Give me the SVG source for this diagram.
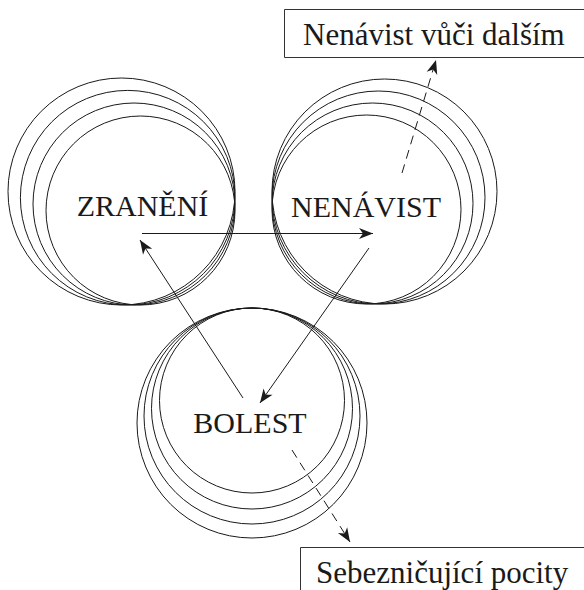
<svg xmlns="http://www.w3.org/2000/svg" width="584" height="590" viewBox="0 0 584 590">
<style>
.ring{fill:none;stroke:#1a1a1a;stroke-width:1}
.lbl{font-family:"Liberation Serif","Times New Roman",serif;font-size:30px;fill:#1a1a1a;text-anchor:middle}
.box{fill:none;stroke:#333;stroke-width:1}
.btxt{font-family:"Liberation Serif","Times New Roman",serif;font-size:31px;fill:#1a1a1a}
.conn{fill:none;stroke:#1a1a1a;stroke-width:1}
.dash{stroke-dasharray:9 6}
</style>
<defs>
<marker id="ah" viewBox="-15 -7 16 14" markerWidth="16" markerHeight="14" markerUnits="userSpaceOnUse" refX="0" refY="0" orient="auto">
<path d="M0,0 L-14,-5.5 L-10,0 L-14,5.5 Z" fill="#1a1a1a"/>
</marker>
</defs>
<rect width="584" height="590" fill="#fff"/>
<g id="zraneni">
<circle class="ring" cx="121.5" cy="191.5" r="113.5"/>
<circle class="ring" cx="127.7" cy="197.7" r="107.3"/>
<circle class="ring" cx="134" cy="204" r="101"/>
<circle class="ring" cx="140.5" cy="210.5" r="94.5"/>
<text class="lbl" x="142.5" y="216">ZRANĚNÍ</text>
</g>
<g id="nenavist">
<circle class="ring" cx="384.5" cy="191.5" r="112.5"/>
<circle class="ring" cx="378.5" cy="197.5" r="106.5"/>
<circle class="ring" cx="372.5" cy="203.5" r="100.5"/>
<circle class="ring" cx="366.5" cy="209.5" r="94.5"/>
<text class="lbl" x="366" y="217">NENÁVIST</text>
</g>
<g id="bolest">
<circle class="ring" cx="252" cy="423" r="115"/>
<circle class="ring" cx="252" cy="416" r="108"/>
<circle class="ring" cx="252" cy="408.5" r="100.5"/>
<circle class="ring" cx="252" cy="400.5" r="92.5"/>
<text class="lbl" x="250" y="433">BOLEST</text>
</g>
<g id="nenavist-dalsim">
<path class="box" d="M584,9.5 H284.5 V57.5 H584"/>
<text class="btxt" x="303" y="45">Nenávist vůči dalším</text>
</g>
<g id="sebeznicujici">
<path class="box" d="M300.5,590 V547.5 H584"/>
<text class="btxt" x="316" y="583">Sebezničující pocity</text>
</g>
<g id="connectors">
<line class="conn" x1="142" y1="233.5" x2="373" y2="233.5" marker-end="url(#ah)"/>
<line class="conn" x1="369" y1="248" x2="260" y2="403" marker-end="url(#ah)"/>
<line class="conn" x1="243" y1="398" x2="140" y2="240" marker-end="url(#ah)"/>
<line class="conn dash" x1="402" y1="173" x2="436" y2="60" marker-end="url(#ah)"/>
<line class="conn dash" x1="292" y1="450" x2="350" y2="542" marker-end="url(#ah)"/>
</g>
</svg>
